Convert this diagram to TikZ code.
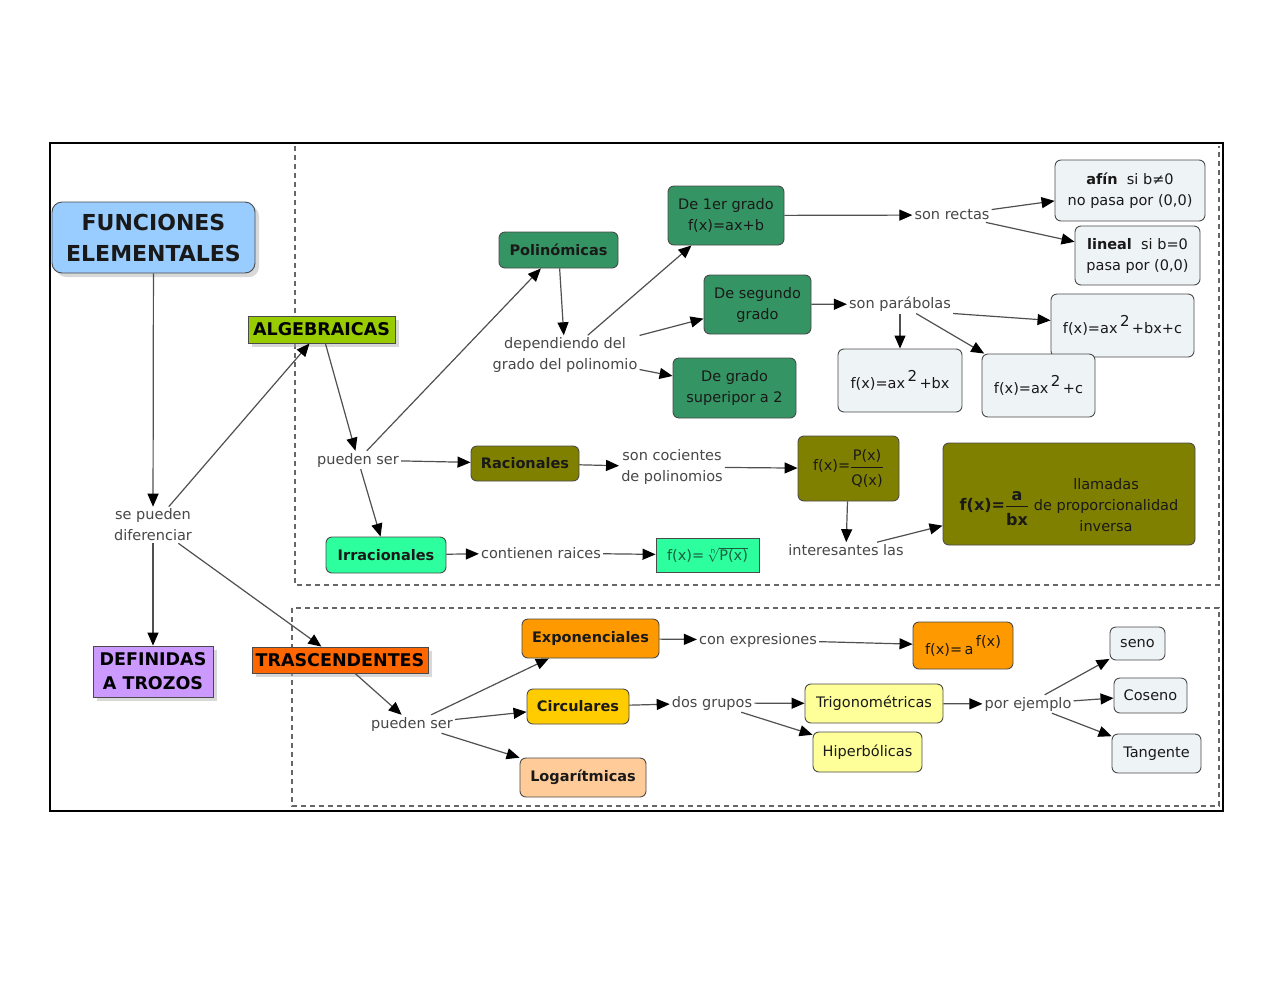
\documentclass[tikz,border=0pt]{standalone}
\usepackage{amsmath}
\usepackage{fontspec}
\setmainfont{DejaVu Sans}
\usetikzlibrary{arrows.meta,shadows}
\definecolor{cfunc}{HTML}{99CCFF}
\definecolor{calg}{HTML}{99CC00}
\definecolor{cdef}{HTML}{CC99FF}
\definecolor{ctra}{HTML}{FF6600}
\definecolor{cpol}{HTML}{359463}
\definecolor{clight}{HTML}{EEF3F6}
\definecolor{colive}{HTML}{808000}
\definecolor{cirr}{HTML}{2EFF9E}
\definecolor{cexp}{HTML}{FF9900}
\definecolor{ccir}{HTML}{FFCC00}
\definecolor{clog}{HTML}{FFCC99}
\definecolor{ctri}{HTML}{FFFF99}
\definecolor{txtgray}{HTML}{474747}
\definecolor{linegray}{HTML}{505050}
\definecolor{bordergray}{HTML}{4A4A4A}
\definecolor{roottxt}{HTML}{1A5E40}
\newcommand\fs{\fontsize{14.5}{21}\selectfont}
\newcommand\supr[1]{\raisebox{7pt}{\fontsize{15}{15}\selectfont #1}}
\tikzset{
  lbl/.style={text=txtgray, font=\fs, align=center, inner sep=2pt},
  bx/.style={draw=bordergray, line width=0.9pt, rounded corners=6pt, align=center, font=\fs, inner sep=3pt, text=black!90},
  bbx/.style={bx, font=\fs\bfseries},
  shd/.style={drop shadow={shadow xshift=4pt, shadow yshift=-4pt, fill=black!30}},
  sqb/.style={draw=bordergray, line width=0.9pt, align=center, inner sep=3pt, shd, font=\fontsize{17.5}{24}\selectfont\bfseries},
  arr/.style={draw=linegray, line width=1.2pt, -{Triangle[color=black,length=13pt,width=11pt]}},
  dsh/.style={draw=black!60, line width=1.1pt, dash pattern=on 5pt off 4pt},
}
\begin{document}
\begin{tikzpicture}[x=1pt,y=-1pt]
\useasboundingbox[fill=white] (0,0) rectangle (1280,989);
\draw[black, line width=1.8pt] (50,143) rectangle (1223,811);
\draw[dsh] (295,146) -- (295,585) -- (1219,585) -- (1219,146);
\draw[dsh] (292,608) rectangle (1219,806);

% left column
\node[bbx, fill=cfunc, rounded corners=10pt, minimum width=203pt, minimum height=71pt, font=\fontsize{22}{31}\selectfont\bfseries, shd] (func) at (153.5,237.5) {FUNCIONES\\ELEMENTALES};
\node[sqb, fill=calg, minimum width=147pt, minimum height=27pt] (alg) at (321.5,329.5) {ALGEBRAICAS};
\node[lbl] (sep) at (153,525) {se pueden\\diferenciar};
\node[sqb, fill=cdef, minimum width=120pt, minimum height=51pt] (def) at (153,671.5) {DEFINIDAS\\A TROZOS};
\node[sqb, fill=ctra, minimum width=176pt, minimum height=26pt] (tra) at (340,660) {TRASCENDENTES};

% algebraicas
\node[lbl] (pser1) at (358,460) {pueden ser};
\node[bbx, fill=cpol, minimum width=119pt, minimum height=36pt] (pol) at (558.5,250) {Polinómicas};
\node[lbl] (dep) at (565,355) {dependiendo del\\grado del polinomio};
\node[bx, fill=cpol, minimum width=116pt, minimum height=59pt] (g1) at (726,215.5) {De 1er grado\\f(x)=ax+b};
\node[bx, fill=cpol, minimum width=107pt, minimum height=59pt] (g2) at (757.5,304.5) {De segundo\\grado};
\node[bx, fill=cpol, minimum width=123pt, minimum height=60pt] (g3) at (734.5,388) {De grado\\superipor a 2};
\node[lbl] (rect) at (952,215) {son rectas};
\node[bx, fill=clight, minimum width=150pt, minimum height=61pt] (afin) at (1130,190.5) {\textbf{afín}\ \ si b≠0\\no pasa por (0,0)};
\node[bx, fill=clight, minimum width=125pt, minimum height=59pt] (lin) at (1137.5,255.5) {\textbf{lineal}\ \ si b=0\\pasa por (0,0)};
\node[lbl] (parab) at (900,304) {son parábolas};
\node[bx, fill=clight, minimum width=143pt, minimum height=63pt] (q1) at (1122.5,325.5) {f(x)=ax\,\supr{2}\,+bx+c};
\node[bx, fill=clight, minimum width=124pt, minimum height=63pt] (q2) at (900,380.5) {f(x)=ax\,\supr{2}\,+bx};
\node[bx, fill=clight, minimum width=113pt, minimum height=63pt] (q3) at (1038.5,385.5) {f(x)=ax\,\supr{2}\,+c};

\node[bbx, fill=colive, minimum width=108pt, minimum height=35pt] (rac) at (525,463.5) {Racionales};
\node[lbl] (coc) at (672,467) {son cocientes\\de polinomios};
\node[bx, fill=colive, minimum width=101pt, minimum height=65pt] (pq) at (848.5,468.5) {f(x)=$\dfrac{\text{P(x)}\rule[-4pt]{0pt}{4pt}}{\text{Q(x)}\rule{0pt}{16pt}}$};
\node[lbl] (inter) at (846,550) {interesantes las};
\node[bx, fill=colive, minimum width=252pt, minimum height=102pt] (inv) at (1069,494) {\rule{0pt}{60pt}{\fontsize{16}{16}\selectfont\bfseries f(x)=}$\dfrac{\text{\fontsize{16}{16}\selectfont\bfseries a}\rule[-3pt]{0pt}{3pt}}{\text{\fontsize{16}{16}\selectfont\bfseries bx}\rule{0pt}{17pt}}$\ \begin{tabular}{@{}c@{}}llamadas\\de proporcionalidad\\inversa\end{tabular}};

\node[bbx, fill=cirr, minimum width=120pt, minimum height=36pt] (irr) at (386,555) {Irracionales};
\node[lbl] (cont) at (541,553) {contienen raices};
\node[draw=bordergray, line width=0.9pt, fill=cirr, minimum width=103pt, minimum height=34pt, font=\fs, text=roottxt, inner sep=2pt] (root) at (707.5,555) {f(x)=\,$\sqrt[\text{n}]{\text{P(x)}}$};

% trascendentes
\node[lbl] (pser2) at (412,724) {pueden ser};
\node[bbx, fill=cexp, minimum width=137pt, minimum height=39pt] (exp) at (590.5,638.5) {Exponenciales};
\node[lbl] (conexp) at (758,640) {con expresiones};
\node[bx, fill=cexp, minimum width=100pt, minimum height=47pt] (apow) at (963,645.5) {f(x)=\,a\,\raisebox{8pt}{f(x)}};
\node[bbx, fill=ccir, minimum width=102pt, minimum height=35pt] (cir) at (578,706.5) {Circulares};
\node[bbx, fill=clog, minimum width=126pt, minimum height=39pt] (log) at (583,777.5) {Logarítmicas};
\node[lbl] (dos) at (712,703) {dos grupos};
\node[bx, fill=ctri, minimum width=138pt, minimum height=39pt] (tri) at (874,703.5) {Trigonométricas};
\node[bx, fill=ctri, minimum width=109pt, minimum height=40pt] (hip) at (867.5,752) {Hiperbólicas};
\node[lbl] (ejem) at (1028,704) {por ejemplo};
\node[bx, fill=clight, minimum width=55pt, minimum height=33pt] (seno) at (1137.5,643.5) {seno};
\node[bx, fill=clight, minimum width=73pt, minimum height=35pt] (cos) at (1150.5,695.5) {Coseno};
\node[bx, fill=clight, minimum width=89pt, minimum height=39pt] (tan) at (1156.5,753.5) {Tangente};

% connectors
\draw[arr] (func) -- (sep);
\draw[arr] (sep) -- (alg);
\draw[arr] (sep) -- (def);
\draw[arr] (sep) -- (tra);
\draw[arr] (alg) -- (pser1);
\draw[arr] (pser1) -- (pol);
\draw[arr] (pser1) -- (rac);
\draw[arr] (pser1) -- (irr);
\draw[arr] (pol) -- (dep);
\draw[arr] (dep) -- (g1);
\draw[arr] (dep) -- (g2);
\draw[arr] (dep) -- (g3);
\draw[arr] (g1) -- (rect);
\draw[arr] (rect) -- (afin);
\draw[arr] (rect) -- (lin);
\draw[arr] (g2) -- (parab);
\draw[arr] (parab.south east) -- (q1);
\draw[arr] (parab) -- (q2);
\draw[arr] (parab) -- (q3);
\draw[arr] (rac) -- (coc);
\draw[arr] (coc) -- (pq);
\draw[arr] (pq) -- (inter);
\draw[arr] (inter) -- (inv);
\draw[arr] (irr) -- (cont);
\draw[arr] (cont) -- (root);
\draw[arr] (tra) -- (pser2);
\draw[arr] (pser2) -- (exp);
\draw[arr] (pser2) -- (cir);
\draw[arr] (pser2) -- (log);
\draw[arr] (exp) -- (conexp);
\draw[arr] (conexp) -- (apow);
\draw[arr] (cir) -- (dos);
\draw[arr] (dos) -- (tri);
\draw[arr] (dos) -- (hip);
\draw[arr] (tri) -- (ejem);
\draw[arr] (ejem) -- (seno);
\draw[arr] (ejem) -- (cos);
\draw[arr] (ejem) -- (tan);
\end{tikzpicture}
\end{document}
